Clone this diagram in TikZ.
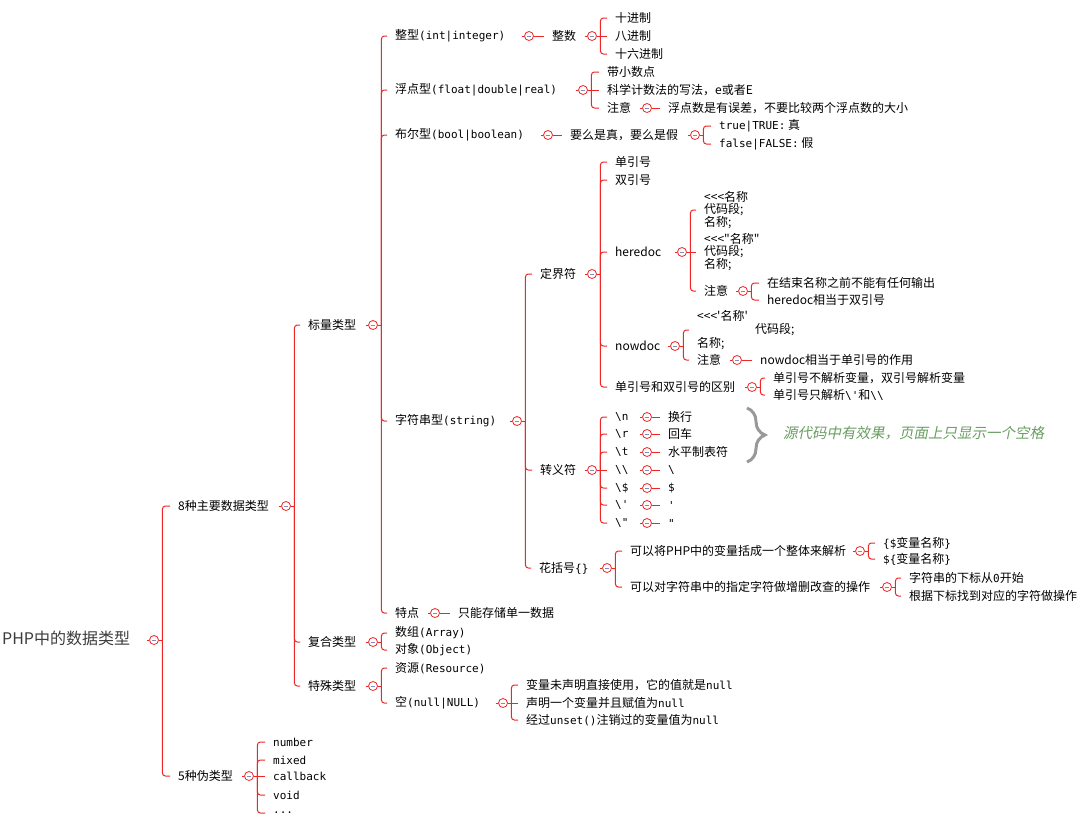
\documentclass[tikz,border=0pt]{standalone}
\usepackage{fontspec}
\setmainfont{Noto Sans CJK SC}
\newfontfamily\monofont{DejaVu Sans Mono}
\newfontfamily\notefont{Noto Sans CJK SC}[FakeSlant=0.2]
\usetikzlibrary{positioning, calc, decorations.pathreplacing}
\definecolor{mapred}{RGB}{238,38,38}
\definecolor{foldbar}{RGB}{128,138,190}
\definecolor{notegreen}{RGB}{104,158,96}
\definecolor{rootgray}{RGB}{60,60,60}
\newcommand\cd[1]{{\monofont\fontsize{11}{12}\selectfont #1}}
\newcommand\lll{<\kern0pt<\kern0pt<\kern0pt}
\tikzset{topic/.style={anchor=west, inner xsep=8pt, inner ysep=1pt, align=left, font=\fontsize{12}{12}\selectfont},
fold/.style={circle, draw=mapred, fill=white, line width=0.8pt, minimum size=9pt, inner sep=0pt,
  path picture={\draw[foldbar, line width=1pt] ([xshift=-2.3pt]path picture bounding box.center) -- ([xshift=2.3pt]path picture bounding box.center);}},
branch/.style={draw=mapred, line width=1pt, rounded corners=3pt},
notebrace/.style={draw=gray!80, line width=3pt, decorate, decoration={brace, amplitude=18pt}}
}
% fold circle #1 branches out to the nodes #2
\newcommand\forkto[2]{%
  \draw[branch] ([xshift=-2.5pt]#1.west) -- (#1.west) (#1.east) -- ([xshift=3.5pt]#1.east);
  \foreach \kid in {#2} \draw[branch] ([xshift=3.5pt]#1.east) |- (\kid.west);
}
% fold circle #1 straight on to node #2
\newcommand\linkto[2]{%
  \draw[branch] ([xshift=-2.5pt]#1.west) -- (#1.west) (#1.east) -- (#2.west);
}

\begin{document}
\begin{tikzpicture}[x=1pt, y=-1pt]
\useasboundingbox (0,0) rectangle (1091,823);
% root
\node[topic, font=\fontsize{16}{16}\selectfont, text=rootgray] (root) at (-6,638) {PHP中的数据类型};
\node[fold] (f-root) at (154,640) {};
\node[topic] (main) at (170,506) {8种主要数据类型};
\node[topic] (pseudo) at (170,776) {5种伪类型};
\forkto{f-root}{main,pseudo}

% pseudo types
\node[fold] (f-pseudo) at (249,776) {};
\node[topic] (number) at (265,742) {\cd{number}};
\node[topic] (mixed) at (265,760) {\cd{mixed}};
\node[topic] (callback) at (265,776) {\cd{callback}};
\node[topic] (void) at (265,795) {\cd{void}};
\node[topic] (more) at (265,813) {\cd{...}};
\forkto{f-pseudo}{number,mixed,void,more}
\linkto{f-pseudo}{callback}

% main types
\node[fold] (f-main) at (286,506) {};
\node[topic] (scalar) at (300,325) {标量类型};
\node[topic] (comp) at (300,642) {复合类型};
\node[topic] (spec) at (300,686) {特殊类型};
\forkto{f-main}{scalar,comp,spec}

% scalar types
\node[fold] (f-scalar) at (373,325) {};
\node[topic] (int) at (387,36) {整型\cd{(int|integer)}};
\node[topic] (float) at (387,90) {浮点型\cd{(float|double|real)}};
\node[topic] (bool) at (387,135) {布尔型\cd{(bool|boolean)}};
\node[topic] (str) at (387,421) {字符串型\cd{(string)}};
\node[topic] (trait) at (387,613) {特点};
\forkto{f-scalar}{int,float,bool,str,trait}

\node[fold] (f-int) at (529,36) {};
\node[topic] (intnum) at (544,36) {整数};
\linkto{f-int}{intnum}
\node[fold] (f-intnum) at (592,36) {};
\node[topic] (dec) at (607,18) {十进制};
\node[topic] (oct) at (607,36) {八进制};
\node[topic] (hex) at (607,54) {十六进制};
\forkto{f-intnum}{dec,hex}
\linkto{f-intnum}{oct}

\node[fold] (f-float) at (583,90) {};
\node[topic] (fdot) at (599,72) {带小数点};
\node[topic] (fsci) at (599,90) {科学计数法的写法，e或者E};
\node[topic] (fnote) at (599,108) {注意};
\forkto{f-float}{fdot,fnote}
\linkto{f-float}{fsci}
\node[fold] (f-fnote) at (647,108) {};
\node[topic] (fnotev) at (660,108) {浮点数是有误差，不要比较两个浮点数的大小};
\linkto{f-fnote}{fnotev}

\node[fold] (f-bool) at (548,135) {};
\node[topic] (boolv) at (562,135) {要么是真，要么是假};
\linkto{f-bool}{boolv}
\node[fold] (f-boolv) at (695,135) {};
\node[topic] (btrue) at (711,126) {\cd{true|TRUE:} 真};
\node[topic] (bfalse) at (711,144) {\cd{false|FALSE:} 假};
\forkto{f-boolv}{btrue,bfalse}

\node[fold] (f-trait) at (435,613) {};
\node[topic] (traitv) at (450,613) {只能存储单一数据};
\linkto{f-trait}{traitv}

% string
\node[fold] (f-str) at (517,421) {};
\node[topic] (delim) at (532,274) {定界符};
\node[topic] (esc) at (532,470) {转义符};
\node[topic] (curly) at (531,568) {花括号\cd{\{\}}};
\forkto{f-str}{delim,esc,curly}

\node[fold] (f-delim) at (592,274) {};
\node[topic] (sq) at (607,162) {单引号};
\node[topic] (dq) at (607,180) {双引号};
\node[topic] (here) at (607,252) {heredoc};
\node[topic] (now) at (607,346) {nowdoc};
\node[topic] (diff) at (607,387) {单引号和双引号的区别};
\forkto{f-delim}{sq,dq,here,now,diff}

\node[fold] (f-here) at (682,252) {};
\node[topic] (h1) at (696,210) {\lll 名称\\代码段;\\名称;};
\node[topic] (h2) at (696,252) {\lll\textquotedbl 名称\textquotedbl\\代码段;\\名称;};
\node[topic] (hnote) at (696,291) {注意};
\forkto{f-here}{h1,hnote}
\linkto{f-here}{h2}
\node[fold] (f-hnote) at (743,291) {};
\node[topic] (hn1) at (759,283) {在结束名称之前不能有任何输出};
\node[topic] (hn2) at (759,300) {heredoc相当于双引号};
\forkto{f-hnote}{hn1,hn2}

\node[fold] (f-now) at (675,346) {};
\node[topic, font=\fontsize{12}{13.5}\selectfont] (n1) at (689,330) {\lll\textquotesingle 名称\textquotesingle\\\hspace*{58pt}代码段;\\名称;};
\node[topic] (nnote) at (689,360) {注意};
\forkto{f-now}{n1,nnote}
\node[fold] (f-nnote) at (737,360) {};
\node[topic] (nnotev) at (752,360) {nowdoc相当于单引号的作用};
\linkto{f-nnote}{nnotev}

\node[fold] (f-diff) at (752,387) {};
\node[topic] (d1) at (765,378) {单引号不解析变量，双引号解析变量};
\node[topic] (d2) at (765,395) {单引号只解析\cd{\textbackslash\textquotesingle}和\cd{\textbackslash\textbackslash}};
\forkto{f-diff}{d1,d2}

% escapes
\node[fold] (f-esc) at (592,470) {};
\node[topic] (e1) at (607,417) {\cd{\textbackslash n}};
\node[topic] (e2) at (607,434) {\cd{\textbackslash r}};
\node[topic] (e3) at (607,452) {\cd{\textbackslash t}};
\node[topic] (e4) at (607,470) {\cd{\textbackslash\textbackslash}};
\node[topic] (e5) at (607,488) {\cd{\textbackslash\$}};
\node[topic] (e6) at (607,505) {\cd{\textbackslash\textquotesingle}};
\node[topic] (e7) at (607,523) {\cd{\textbackslash\textquotedbl}};
\forkto{f-esc}{e1,e2,e3,e5,e6,e7}
\linkto{f-esc}{e4}
\node[fold] (f-e1) at (647,417) {};
\node[fold] (f-e2) at (647,434) {};
\node[fold] (f-e3) at (647,452) {};
\node[fold] (f-e4) at (647,470) {};
\node[fold] (f-e5) at (647,488) {};
\node[fold] (f-e6) at (647,505) {};
\node[fold] (f-e7) at (647,523) {};
\node[topic] (v1) at (660,417) {换行};
\node[topic] (v2) at (660,434) {回车};
\node[topic] (v3) at (660,452) {水平制表符};
\node[topic] (v4) at (660,470) {\cd{\textbackslash}};
\node[topic] (v5) at (660,488) {\cd{\$}};
\node[topic] (v6) at (660,505) {\cd{\textquotesingle}};
\node[topic] (v7) at (660,523) {\cd{\textquotedbl}};
\linkto{f-e1}{v1} \linkto{f-e2}{v2} \linkto{f-e3}{v3} \linkto{f-e4}{v4}
\linkto{f-e5}{v5} \linkto{f-e6}{v6} \linkto{f-e7}{v7}
\draw[notebrace] (747,408) -- (747,462);
\node[anchor=west, inner sep=0pt, text=notegreen, font=\notefont\fontsize{14.5}{15}\selectfont] (note) at (783,433) {源代码中有效果，页面上只显示一个空格};

% curly braces
\node[fold] (f-curly) at (607,568) {};
\node[topic] (b1) at (622,551) {可以将PHP中的变量括成一个整体来解析};
\node[topic] (b2) at (622,587) {可以对字符串中的指定字符做增删改查的操作};
\forkto{f-curly}{b1,b2}
\node[fold] (f-php) at (860,551) {};
\node[topic] (p1) at (875,543) {\cd{\{\$}变量名称\cd{\}}};
\node[topic] (p2) at (875,559) {\cd{\$\{}变量名称\cd{\}}};
\forkto{f-php}{p1,p2}
\node[fold] (f-idx) at (887,587) {};
\node[topic] (i1) at (901,578) {字符串的下标从\cd{0}开始};
\node[topic] (i2) at (901,596) {根据下标找到对应的字符做操作};
\forkto{f-idx}{i1,i2}

% compound and special types
\node[fold] (f-comp) at (373,642) {};
\node[topic] (arr) at (387,633) {数组\cd{(Array)}};
\node[topic] (obj) at (387,650) {对象\cd{(Object)}};
\forkto{f-comp}{arr,obj}
\node[fold] (f-spec) at (373,686) {};
\node[topic] (res) at (387,668) {资源\cd{(Resource)}};
\node[topic] (null) at (387,703) {空\cd{(null|NULL)}};
\forkto{f-spec}{res,null}
\node[fold] (f-null) at (503,703) {};
\node[topic] (na) at (518,685) {变量未声明直接使用，它的值就是\cd{null}};
\node[topic] (nb) at (518,703) {声明一个变量并且赋值为\cd{null}};
\node[topic] (nc) at (518,720) {经过\cd{unset()}注销过的变量值为\cd{null}};
\forkto{f-null}{na,nc}
\linkto{f-null}{nb}
\end{tikzpicture}
\end{document}
